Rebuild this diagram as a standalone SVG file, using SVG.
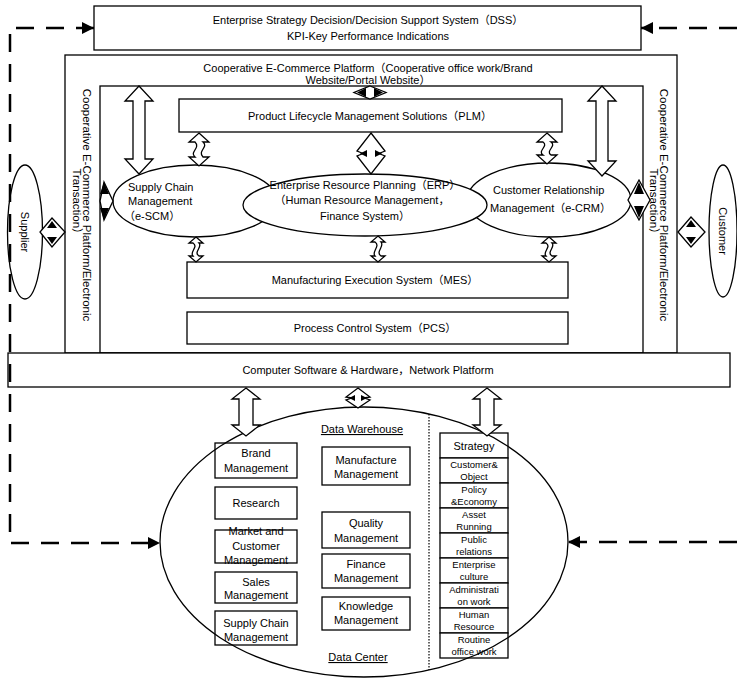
<svg xmlns="http://www.w3.org/2000/svg" width="737" height="678" viewBox="0 0 737 678">
<defs>
<style>
.b{fill:#fff;stroke:#000;stroke-width:1.3}
.o{fill:none;stroke:#000;stroke-width:1.3}
.t{font-family:"Liberation Sans","Noto Sans CJK SC",sans-serif;font-size:11px;fill:#000;text-anchor:middle}
.l{text-anchor:start}
.s{font-size:9.5px}
.st{font-size:11.5px}
.u{text-decoration:underline}
.dash{fill:none;stroke:#000;stroke-width:2.5;stroke-dasharray:18 12}
.ar{fill:#fff;stroke:#000;stroke-width:1.3;stroke-linejoin:miter}
.k{fill:#000;stroke:none}
.dot{fill:none;stroke:#000;stroke-width:1.2;stroke-dasharray:1.5 1.5}
</style>
<marker id="ah" viewBox="0 0 10 10" refX="10" refY="5" markerWidth="15" markerHeight="12" markerUnits="userSpaceOnUse" orient="auto-start-reverse">
<path d="M0,0 L10,5 L0,10 Z" fill="#000"/>
</marker>
</defs>
<rect width="737" height="678" fill="#fff"/>

<g id="dss">
<rect class="b" x="94" y="6" width="547" height="44"/>
<text class="t" x="368" y="24">Enterprise Strategy Decision/Decision Support System（DSS）</text>
<text class="t" x="368" y="40">KPI-Key Performance Indications</text>
</g>

<g id="platform">
<rect class="b" x="65" y="55" width="612" height="298"/>
<text class="t" x="368" y="72">Cooperative E-Commerce Platform（Cooperative office work/Brand</text>
<text class="t" x="368" y="84">Website/Portal Website）</text>
<rect class="o" x="100" y="86" width="543" height="267"/>
</g>

<g id="strip-left">
<text class="t st" transform="translate(83,205) rotate(90)">Cooperative E-Commerce Platform/Electronic</text>
<text class="t st" transform="translate(73,204) rotate(90)">Transaction）</text>
</g>
<g id="strip-right">
<text class="t st" transform="translate(660,205) rotate(90)">Cooperative E-Commerce Platform/Electronic</text>
<text class="t st" transform="translate(650,204) rotate(90)">Transaction）</text>
</g>

<g id="supplier">
<ellipse class="b" cx="25" cy="232" rx="17.5" ry="67"/>
<text class="t" transform="translate(21,232) rotate(90)">Supplier</text>
</g>
<g id="customer">
<ellipse class="b" cx="723" cy="231" rx="14" ry="66"/>
<text class="t" transform="translate(719,231) rotate(90)">Customer</text>
</g>

<g id="plm">
<rect class="b" x="179" y="99" width="383" height="33"/>
<text class="t" x="370" y="120">Product Lifecycle Management Solutions（PLM）</text>
</g>

<g id="scm">
<ellipse class="b" cx="195" cy="201" rx="82" ry="36"/>
<text class="t l" x="128" y="191">Supply Chain</text>
<text class="t l" x="128" y="205">Management</text>
<text class="t l" x="124" y="220">（e-SCM）</text>
</g>
<g id="crm">
<ellipse class="b" cx="549" cy="200" rx="82" ry="37"/>
<text class="t l" x="493" y="194">Customer Relationship</text>
<text class="t l" x="490" y="212">Management（e-CRM）</text>
</g>
<g id="erp">
<ellipse class="b" cx="365" cy="205" rx="122" ry="31"/>
<text class="t" x="365" y="189">Enterprise Resource Planning（ERP）</text>
<text class="t" x="362" y="204">（Human Resource Management，</text>
<text class="t" x="365" y="220">Finance System）</text>
</g>

<g id="mes">
<rect class="b" x="187" y="262" width="381" height="36"/>
<text class="t" x="375" y="284">Manufacturing Execution System（MES）</text>
</g>
<g id="pcs">
<rect class="b" x="187" y="312" width="381" height="32"/>
<text class="t" x="375" y="332">Process Control System（PCS）</text>
</g>

<g id="network">
<rect class="b" x="8" y="353" width="722" height="34"/>
<text class="t" x="368" y="374">Computer Software &amp; Hardware，Network Platform</text>
</g>

<g id="data-center">
<ellipse cx="364" cy="542" rx="204" ry="135" fill="#fff" stroke="none"/>
<text class="t u" x="362" y="433">Data Warehouse</text>
<text class="t u" x="358" y="661">Data Center</text>
<line class="dot" x1="429" y1="414" x2="429" y2="670"/>
<g id="left-column">
<rect class="b" x="215" y="443" width="82" height="35"/>
<text class="t" x="256" y="457">Brand</text>
<text class="t" x="256" y="472">Management</text>
<rect class="b" x="215" y="487" width="82" height="32"/>
<text class="t" x="256" y="507">Research</text>
<rect class="b" x="215" y="530" width="82" height="33"/>
<text class="t" x="256" y="535">Market and</text>
<text class="t" x="256" y="550">Customer</text>
<text class="t" x="256" y="564">Management</text>
<rect class="b" x="215" y="572" width="82" height="31"/>
<text class="t" x="256" y="586">Sales</text>
<text class="t" x="256" y="599">Management</text>
<rect class="b" x="215" y="611" width="82" height="34"/>
<text class="t" x="256" y="627">Supply Chain</text>
<text class="t" x="256" y="641">Management</text>
</g>
<g id="middle-column">
<rect class="b" x="322" y="447" width="88" height="38"/>
<text class="t" x="366" y="464">Manufacture</text>
<text class="t" x="366" y="478">Management</text>
<rect class="b" x="322" y="512" width="88" height="36"/>
<text class="t" x="366" y="527">Quality</text>
<text class="t" x="366" y="542">Management</text>
<rect class="b" x="322" y="554" width="88" height="34"/>
<text class="t" x="366" y="568">Finance</text>
<text class="t" x="366" y="582">Management</text>
<rect class="b" x="322" y="597" width="88" height="33"/>
<text class="t" x="366" y="610">Knowledge</text>
<text class="t" x="366" y="624">Management</text>
</g>
<g id="right-column">
<rect class="b" x="440" y="433" width="68" height="25"/>
<text class="t" x="474" y="450">Strategy</text>
<rect class="b" x="440" y="458" width="68" height="25"/>
<text class="t s" x="474" y="468">Customer&amp;</text>
<text class="t s" x="474" y="480">Object</text>
<rect class="b" x="440" y="483" width="68" height="25"/>
<text class="t s" x="474" y="493">Policy</text>
<text class="t s" x="474" y="505">&amp;Economy</text>
<rect class="b" x="440" y="508" width="68" height="25"/>
<text class="t s" x="474" y="518">Asset</text>
<text class="t s" x="474" y="530">Running</text>
<rect class="b" x="440" y="533" width="68" height="25"/>
<text class="t s" x="474" y="543">Public</text>
<text class="t s" x="474" y="555">relations</text>
<rect class="b" x="440" y="558" width="68" height="25"/>
<text class="t s" x="474" y="568">Enterprise</text>
<text class="t s" x="474" y="580">culture</text>
<rect class="b" x="440" y="583" width="68" height="25"/>
<text class="t s" x="474" y="593">Administrati</text>
<text class="t s" x="474" y="605">on work</text>
<rect class="b" x="440" y="608" width="68" height="25"/>
<text class="t s" x="474" y="618">Human</text>
<text class="t s" x="474" y="630">Resource</text>
<rect class="b" x="440" y="633" width="68" height="25"/>
<text class="t s" x="474" y="643">Routine</text>
<text class="t s" x="474" y="655">office work</text>
</g>
<ellipse class="o" cx="364" cy="542" rx="204" ry="135"/>
</g>

<g id="connectors">
<path class="dash" d="M94,28 H10 V543 H160" marker-start="url(#ah)" marker-end="url(#ah)"/>
<path class="dash" d="M737,28 H641" marker-end="url(#ah)"/>
<path class="dash" d="M737,542 H568" marker-end="url(#ah)"/>

<path class="ar" d="M139,86 L153,101 L145,101 L145,159 L153,159 L139,174 L125,159 L133,159 L133,101 L125,101 Z"/>
<path class="ar" d="M602,86 L616,101 L608,101 L608,161 L616,161 L602,176 L588,161 L596,161 L596,101 L588,101 Z"/>
<path class="ar" d="M246,388 L260,399 L253,399 L253,425 L260,425 L246,436 L232,425 L239,425 L239,399 L232,399 Z"/>
<path class="ar" d="M487,388 L501,399 L494,399 L494,425 L501,425 L487,436 L473,425 L480,425 L480,399 L473,399 Z"/>

<path class="ar" d="M199,133 L209,142 L203,142 C209,147 197,151 203,157 L209,157 L199,166 L189,157 L195,157 C189,152 201,148 195,142 L189,142 Z"/>
<path class="ar" d="M547,133 L557,142 L551,142 C557,146 545,151 551,155 L557,155 L547,164 L537,155 L543,155 C537,151 549,146 543,142 L537,142 Z"/>
<path class="ar" d="M371,133 L385,151 L379,153.5 L385,156 L371,174 L357,156 L363,153.5 L357,151 Z"/>
<path class="k" d="M360,153.5 L367,150 L367,157 Z M382,153.5 L375,150 L375,157 Z"/>

<path class="ar" d="M196,237 L203,243 L199,243 C203,247 193,252 199,256 L203,256 L196,262 L189,256 L193,256 C189,252 199,247 193,243 L189,243 Z"/>
<path class="ar" d="M378,236 L385,242 L381,242 C385,246 375,252 381,256 L385,256 L378,262 L371,256 L375,256 C371,252 381,246 375,242 L371,242 Z"/>
<path class="ar" d="M549,237 L556,243 L552,243 C556,247 546,252 552,256 L556,256 L549,262 L542,256 L546,256 C542,252 552,247 546,243 L542,243 Z"/>

<path class="ar" d="M370,86 L386,92.5 L370,99 L354,92.5 Z"/>
<path class="k" d="M357,92.5 L366,88 L366,97 Z M383,92.5 L374,88 L374,97 Z"/>

<path class="ar" d="M358,388 L370,397 L364,398 L370,400 L358,408 L346,400 L352,398 L346,397 Z"/>
<path class="k" d="M349,398 L355,395 L355,401 Z M367,398 L361,395 L361,401 Z"/>

<path class="ar" d="M52,218 L65,232 L52,247 L40,232 Z"/>
<path class="k" d="M52,221 L57,228 L47,228 Z M52,244 L57,237 L47,237 Z"/>
<path class="ar" d="M691,217 L705,232 L691,247 L678,232 Z"/>
<path class="k" d="M691,220 L696,227 L686,227 Z M691,244 L696,237 L686,237 Z"/>

<path class="ar" d="M104,182 L113,201 L104,220 L100,201 Z"/>
<path class="k" d="M104,182 L109,194 L100,194 Z M104,220 L109,208 L100,208 Z"/>
<path class="ar" d="M639,180 L650,200 L639,220 L628,200 Z"/>
<path class="k" d="M639,182 L644,194 L634,194 Z M639,218 L644,206 L634,206 Z"/>
</g>
</svg>
